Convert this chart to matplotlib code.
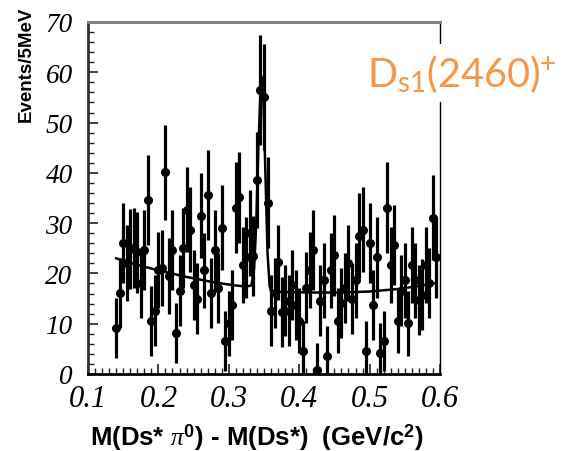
import numpy as np
import matplotlib
matplotlib.use("Agg")
import matplotlib.pyplot as plt
from matplotlib.ticker import MultipleLocator

plt.rcParams['mathtext.fontset'] = 'custom'
plt.rcParams['mathtext.rm'] = 'Lato'
plt.rcParams['mathtext.bf'] = 'Liberation Sans:bold'
plt.rcParams['mathtext.it'] = 'Liberation Serif:italic'

# 5 MeV bins, first centre at 0.140 GeV
bin_start = 0.14
bin_width = 0.005
counts = [9.1, 16.1, 26.0, 22.1, 24.9, 25.1, 24.2, 18.1, 24.7, 34.6, 10.5, 12.6,
          20.7, 21.1, 40.1, 19.5, 24.7, 8.2, 16.6, 25.1, 32.7, 28.7, 17.7,
          15.0, 31.5, 20.6, 35.6, 16.1, 24.7, 17.1, 29.1, 6.6, 10.1, 13.7, 33.1,
          35.1, 21.7, 23.2, 28.0, 23.5, 38.6, 56.5, 55.1, 34.1,
          12.6, 16.1, 22.2, 12.3, 14.6, 12.6, 17.7, 13.7, 10.6, 4.6, 17.2, 20.7,
          24.7, 0.7, 14.6, 18.6, 3.6, 20.6, 23.6, 10.6, 14.1, 17.1, 22.1, 15.0,
          18.6, 27.5,
          28.7, 4.6, 26.0, 13.7, 23.2, 4.2, 6.6, 33.1, 21.7, 25.6, 10.6, 16.6,
          18.6, 10.1, 21.7, 18.6, 14.7, 15.8, 21.7, 18.1, 31.1, 23.2]
errors = [6, 7, 8, 7.5, 8, 8, 8, 7, 8, 9, 7, 7,
          7.5, 7.5, 9.5, 7.5, 8, 6, 7, 8, 8.5, 8.5, 7,
          7, 8.5, 7.5, 9, 7, 8, 7, 8.5, 6, 6.5, 7, 9,
          9, 7.5, 8, 8.5, 8, 9.5, 11, 10.5, 9,
          7, 7, 7.5, 7, 7, 7, 7, 7, 6.5, 6, 7, 7.5,
          8, 5.5, 7, 7.5, 6, 7.5, 8, 6.5, 7, 7, 7.5, 7,
          7.5, 8.5,
          8.5, 6, 8, 7, 8, 6, 6, 9, 7.5, 8, 6.5, 7,
          7.5, 6.5, 7.5, 7.5, 7, 7, 7.5, 7, 8.5, 8]

# fitted curve
fit_x = [0.14, 0.16, 0.20, 0.24, 0.28, 0.31, 0.325, 0.332, 0.336, 0.339, 0.342,
         0.345, 0.347, 0.349, 0.352, 0.355, 0.358, 0.36, 0.38, 0.42, 0.46, 0.50,
         0.54, 0.57, 0.595]
fit_y = [23.0, 22.1, 20.6, 19.3, 18.2, 17.6, 17.4, 17.6, 21, 30, 45,
         56, 59, 55, 40, 24, 17.5, 16.4, 16.3, 16.2, 16.2, 16.4,
         16.9, 17.5, 18.1]

x_ticks = [0.1, 0.2, 0.3, 0.4, 0.5, 0.6]
y_ticks = [0, 10, 20, 30, 40, 50, 60, 70]

x = bin_start + bin_width * np.arange(len(counts))

fig = plt.figure(figsize=(5.7, 4.52), dpi=100)
ax = fig.add_axes([88 / 570, 77 / 452, 352 / 570, 352 / 452])

ax.errorbar(x, counts, yerr=errors, fmt='o', color='black', ms=5.5,
            elinewidth=2.3, capsize=0, zorder=3)
ax.plot(fit_x, fit_y, color='black', lw=1.8, zorder=4)

ax.set_xlim(0.1, 0.6)
ax.set_ylim(0, 70)
ax.set_xticks(x_ticks)
ax.set_yticks(y_ticks)
ax.set_xticklabels([str(t) for t in x_ticks])
ax.set_yticklabels([str(t) for t in y_ticks])
ax.xaxis.set_minor_locator(MultipleLocator(0.01))
ax.yaxis.set_minor_locator(MultipleLocator(2))
ax.tick_params(which='both', direction='in', top=False, right=False, color='#222222')
ax.tick_params(which='major', length=7, width=1.2)
ax.tick_params(which='minor', length=4, width=1.0)
ax.tick_params(axis='x', pad=7)
ax.tick_params(axis='y', pad=11)
for lab in ax.get_xticklabels():
    lab.set_fontfamily('Liberation Serif')
    lab.set_fontstyle('italic')
    lab.set_fontsize(22)
for lab in ax.get_yticklabels():
    lab.set_fontfamily('Liberation Serif')
    lab.set_fontstyle('italic')
    lab.set_fontsize(19.5)

ax.spines['left'].set_linewidth(2)
ax.spines['left'].set_color('#333333')
ax.spines['bottom'].set_linewidth(2)
ax.spines['top'].set_linewidth(2.2)
ax.spines['top'].set_color('#808080')
ax.spines['right'].set_linewidth(1)

fig.text(26 / 570, 1 - 64 / 452, 'Events/5MeV', rotation=90, ha='center', va='center',
         family='Liberation Sans', fontweight='heavy', fontsize=13.5)
fig.text(257 / 570, 1 - 438 / 452,
         r'M(Ds* $\pi^{\mathbf{0}}$) - M(Ds*)  (GeV/c$^{\mathbf{2}}$)',
         ha='center', va='center', family='Liberation Sans', fontweight='bold', fontsize=18.5)

fig.text(367 / 570, 1 - 87 / 452, r'D$_{\mathrm{s1}}$(2460)$^{+}$', ha='left', va='baseline',
         family='Lato', fontsize=28.5, color='#F79646', zorder=10,
         bbox=dict(boxstyle='square,pad=0.2', facecolor='white', edgecolor='none'))

fig.savefig('out.png', dpi=100)
